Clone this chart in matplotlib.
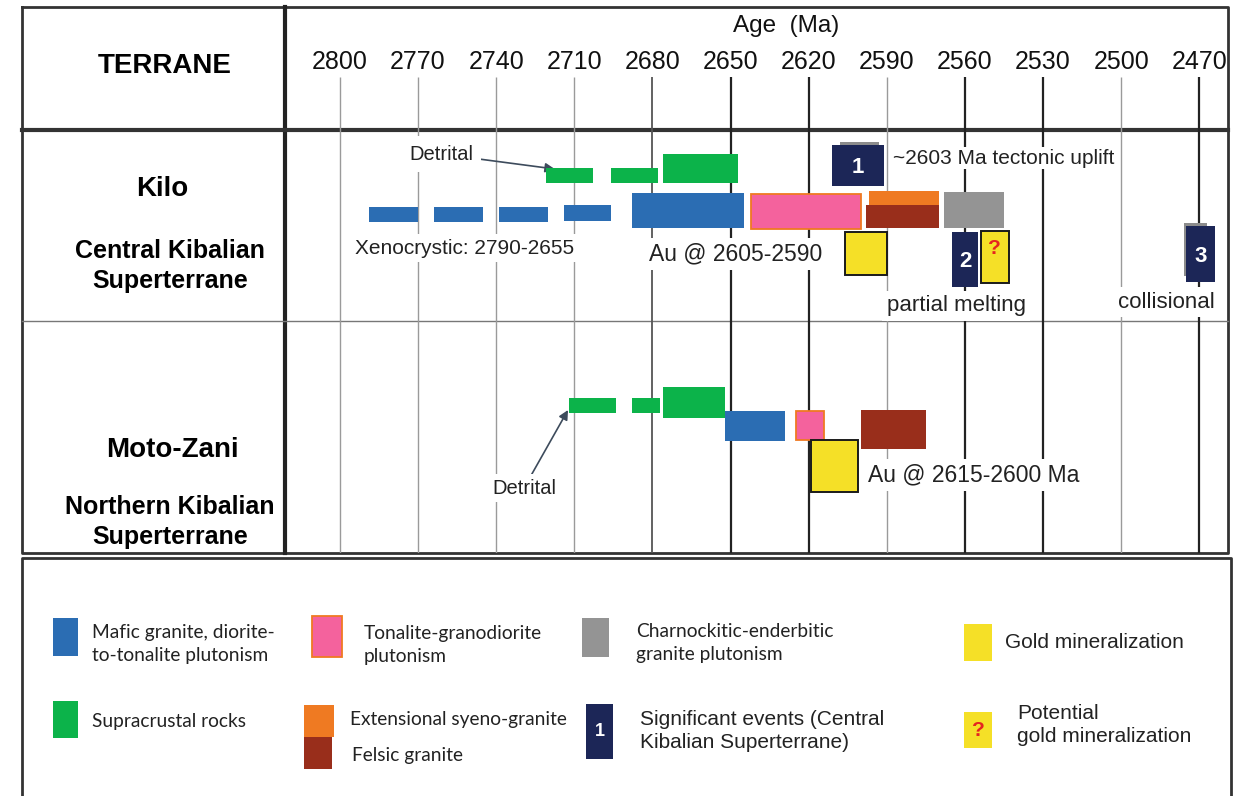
import numpy as np
import matplotlib.pyplot as plt

# Age ticks (Ma)
ticks = [2800, 2770, 2740, 2710, 2680, 2650, 2620, 2590, 2560, 2530, 2500, 2470]

# Kilo - Central Kibalian Superterrane: age ranges (start, end) in Ma
kilo_supracrustal = [(2721, 2703), (2696, 2678), (2676, 2647)]
kilo_mafic = [(2789, 2770), (2764, 2745), (2739, 2720), (2714, 2696), (2688, 2645)]
kilo_tonalite = [(2642, 2600)]
kilo_syeno = [(2597, 2570)]
kilo_felsic = [(2598, 2570)]
kilo_charno = [(2568, 2545)]
kilo_gold = [(2606, 2590)]
kilo_potential_gold = [(2554, 2543)]
kilo_events = [(2611, 2591), (2565, 2555), (2475, 2464)]
kilo_event_shadows = [(2608, 2593), None, (2476, 2467)]
event_ids = ["1", "2", "3"]

# Moto-Zani - Northern Kibalian Superterrane
moto_supracrustal = [(2712, 2694), (2688, 2677), (2676, 2652)]
moto_mafic = [(2652, 2629)]
moto_tonalite = [(2625, 2614)]
moto_gold = [(2619, 2601)]
moto_felsic = [(2600, 2575)]

# vertical placement of the bars (top, bottom) in layout rows
kilo_supracrustal_y = [(168, 183), (168, 183), (154, 183)]
kilo_mafic_y = [(207, 222), (207, 222), (207, 222), (205, 221), (193, 228)]
kilo_tonalite_y = [(194, 229)]
kilo_syeno_y = [(191, 206)]
kilo_felsic_y = [(205, 228)]
kilo_charno_y = [(192, 228)]
kilo_gold_y = [(232, 275)]
kilo_potential_y = [(231, 283)]
kilo_events_y = [(145, 186), (232, 287), (226, 282)]
moto_supracrustal_y = [(398, 413), (398, 413), (387, 418)]
moto_mafic_y = [(411, 441)]
moto_tonalite_y = [(411, 440)]
moto_gold_y = [(440, 492)]
moto_felsic_y = [(410, 449)]

# colours
BLUE = "#2B6DB3"
GREEN = "#0CB34A"
PINK = "#F4629D"
ORANGE = "#EF7A22"
DARKRED = "#992E1B"
GREY = "#949494"
NAVY = "#1C2657"
YELLOW = "#F5E027"
QRED = "#E52420"

ARIAL = ["Liberation Sans", "DejaVu Sans"]
CALIBRI = ["Lato", "DejaVu Sans"]

fig = plt.figure(figsize=(12.4, 7.96), dpi=100)

# background axes in pixel units: table frame, terrane column and legend
bg = fig.add_axes([0, 0, 1, 1])
bg.set_xlim(0, 1240)
bg.set_ylim(796, 0)
bg.axis("off")

bg.plot([22, 1228, 1228, 22, 22], [7, 7, 553, 553, 7], color="#333333", lw=2)
bg.plot([285, 285], [7, 553], color="#222222", lw=3)
bg.plot([22, 1228], [130, 130], color="#333333", lw=3)
bg.plot([22, 1228], [321, 321], color="#777777", lw=1)
bg.plot([22, 22, 1231, 1231], [800, 558, 558, 800], color="#333333", lw=2)

bg.text(165, 66, "TERRANE", ha="center", va="center", fontsize=20, fontweight="bold", family=ARIAL)
bg.text(162, 189, "Kilo", ha="center", va="center", fontsize=20, fontweight="bold", family=ARIAL)
bg.text(170, 266, "Central Kibalian\nSuperterrane", ha="center", va="center", fontsize=18,
        fontweight="bold", family=ARIAL, linespacing=1.3)
bg.text(172, 450, "Moto-Zani", ha="center", va="center", fontsize=20, fontweight="bold", family=ARIAL)
bg.text(170, 522, "Northern Kibalian\nSuperterrane", ha="center", va="center", fontsize=18,
        fontweight="bold", family=ARIAL, linespacing=1.3)
bg.text(786, 26, "Age  (Ma)", ha="center", va="center", fontsize=17.5, family=ARIAL, color="#111111")

# timeline axes
ax = fig.add_axes([287 / 1240, 1 - 553 / 796, (1228 - 287) / 1240, (553 - 6) / 796])
ax.set_facecolor("none")
ax.set_xlim(2820.3, 2459)
ax.set_ylim(553, 6)
ax.axis("off")

dark_ticks = {2650, 2620, 2560, 2530, 2470}
for t in ticks:
    if t in dark_ticks:
        ax.vlines(t, 77, 553, color="#222222", lw=1.6, zorder=1)
    elif t == 2680:
        ax.vlines(t, 77, 553, color="#555555", lw=1.3, zorder=1)
    else:
        ax.vlines(t, 77, 553, color="#9a9a9a", lw=1.0, zorder=1)
    ax.text(t, 62, str(t), ha="center", va="center", fontsize=18, family=ARIAL, color="#111111")


def bars(ranges, rows, color, ec="none", lw=0, z=4):
    for (a0, a1), (y0, y1) in zip(ranges, rows):
        ax.barh((y0 + y1) / 2, a1 - a0, left=a0, height=y1 - y0, color=color,
                edgecolor=ec, linewidth=lw, zorder=z)


box = dict(facecolor="white", edgecolor="none", pad=3)

# Kilo
bars(kilo_supracrustal, kilo_supracrustal_y, GREEN)
bars(kilo_mafic, kilo_mafic_y, BLUE)
bars(kilo_tonalite, kilo_tonalite_y, PINK, ec=ORANGE, lw=1.3)
bars(kilo_syeno, kilo_syeno_y, ORANGE)
bars(kilo_felsic, kilo_felsic_y, DARKRED)
bars(kilo_charno, kilo_charno_y, GREY)
bars(kilo_gold, kilo_gold_y, YELLOW, ec="#1a1a1a", lw=1.4)
bars(kilo_potential_gold, kilo_potential_y, YELLOW, ec="#1a1a1a", lw=1.4)
for (a0, a1), (y0, y1) in zip(kilo_potential_gold, kilo_potential_y):
    ax.text((a0 + a1) / 2, (y0 + y1) / 2 - 8, "?", ha="center", va="center", color=QRED,
            fontsize=15, fontweight="bold", family=ARIAL, zorder=6)

for sh, (y0, y1) in zip(kilo_event_shadows, kilo_events_y):
    if sh is not None:
        bars([sh], [(y0 - 3, y1 - 6)], "#8c8c8c", z=4)
bars(kilo_events, kilo_events_y, NAVY, z=5)
for (a0, a1), (y0, y1), eid in zip(kilo_events, kilo_events_y, event_ids):
    ax.text((a0 + a1) / 2, (y0 + y1) / 2 + 2, eid, ha="center", va="center", color="white",
            fontsize=16, fontweight="bold", family=ARIAL, zorder=6)

ax.text(2587.6, 158, "~2603 Ma tectonic uplift", ha="left", va="center", fontsize=15,
        family=ARIAL, color="#222222", bbox=dict(facecolor="white", edgecolor="none", pad=1), zorder=3)
ax.text(2794.2, 248, "Xenocrystic: 2790-2655", ha="left", va="center", fontsize=15,
        family=ARIAL, color="#222222", bbox=box, zorder=3)
ax.text(2681.5, 254, "Au @ 2605-2590", ha="left", va="center", fontsize=16.5,
        family=ARIAL, color="#222222", bbox=box, zorder=3)
ax.text(2563.4, 306, "partial melting", ha="center", va="center", fontsize=16,
        family=ARIAL, color="#222222", bbox=box, zorder=3)
ax.text(2482.8, 302, "collisional", ha="center", va="center", fontsize=16,
        family=ARIAL, color="#222222", bbox=box, zorder=3)
ax.annotate("Detrital", xy=(2717.5, 169), xytext=(2773.5, 154), ha="left", va="center",
            fontsize=14.5, family=ARIAL, color="#222222", bbox=dict(facecolor="white", edgecolor="none", pad=6),
            zorder=3,
            arrowprops=dict(arrowstyle="-|>", color="#3d4b5c", lw=1.2, mutation_scale=14,
                            shrinkA=0, shrinkB=0))

# Moto-Zani
bars(moto_supracrustal, moto_supracrustal_y, GREEN)
bars(moto_mafic, moto_mafic_y, BLUE)
bars(moto_tonalite, moto_tonalite_y, PINK, ec=ORANGE, lw=1.3)
bars(moto_felsic, moto_felsic_y, DARKRED)
bars(moto_gold, moto_gold_y, YELLOW, ec="#1a1a1a", lw=1.4)

ax.text(2597.2, 475, "Au @ 2615-2600 Ma", ha="left", va="center", fontsize=16.5,
        family=ARIAL, color="#222222", bbox=box, zorder=3)
ax.annotate("Detrital", xy=(2712.4, 410), xytext=(2741.6, 488), ha="left", va="center",
            fontsize=14.5, family=ARIAL, color="#222222", bbox=box, zorder=3,
            arrowprops=dict(arrowstyle="-|>", color="#3d4b5c", lw=1.2, mutation_scale=14,
                            shrinkA=0, shrinkB=0))

# legend
def swatch(x0, y0, x1, y1, color, ec="none", lw=0):
    bg.add_patch(plt.Rectangle((x0, y0), x1 - x0, y1 - y0, facecolor=color, edgecolor=ec, lw=lw))


swatch(53, 618, 78, 656, BLUE)
bg.text(92, 644, "Mafic granite, diorite-\nto-tonalite plutonism", va="center", fontsize=13.8,
        family=CALIBRI, color="#222222", linespacing=1.45)
swatch(312, 616, 342, 657, PINK, ec=ORANGE, lw=1.3)
bg.text(364, 645, "Tonalite-granodiorite\nplutonism", va="center", fontsize=13.8,
        family=CALIBRI, color="#222222", linespacing=1.45)
swatch(582, 618, 609, 657, GREY)
bg.text(636, 643, "Charnockitic-enderbitic\ngranite plutonism", va="center", fontsize=13.8,
        family=CALIBRI, color="#222222", linespacing=1.45)
swatch(964, 624, 992, 661, YELLOW)
bg.text(1005, 643, "Gold mineralization", va="center", fontsize=15, family=ARIAL, color="#222222")

swatch(53, 701, 78, 738, GREEN)
bg.text(92, 722, "Supracrustal rocks", va="center", fontsize=13.8, family=CALIBRI, color="#222222")
swatch(304, 705, 334, 737, ORANGE)
swatch(304, 737, 332, 769, DARKRED)
bg.text(350, 719, "Extensional syeno-granite", va="center", fontsize=13.8, family=CALIBRI,
        color="#222222")
bg.text(352, 756, "Felsic granite", va="center", fontsize=13.8, family=CALIBRI, color="#222222")
swatch(586, 704, 613, 759, NAVY)
bg.text(599.5, 731, "1", ha="center", va="center", color="white", fontsize=13, fontweight="bold",
        family=ARIAL)
bg.text(640, 731, "Significant events (Central\nKibalian Superterrane)", va="center", fontsize=15,
        family=ARIAL, color="#222222", linespacing=1.25)
swatch(964, 712, 992, 748, YELLOW)
bg.text(978, 730, "?", ha="center", va="center", color=QRED, fontsize=15, fontweight="bold",
        family=ARIAL)
bg.text(1017, 725, "Potential\ngold mineralization", va="center", fontsize=15, family=ARIAL,
        color="#222222", linespacing=1.25)

fig.savefig("out.png", dpi=100)
